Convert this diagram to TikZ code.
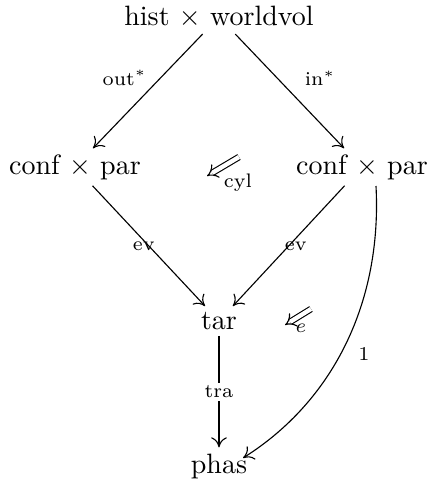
\documentclass[tikz,border=0pt]{standalone}
\usetikzlibrary{arrows.meta}
\begin{document}
\begin{tikzpicture}[x=0.3571pt,y=-0.3571pt,
  obj/.style={inner sep=2pt},
  lab/.style={font=\scriptsize,inner sep=1pt},
  arr/.style={-{Computer Modern Rightarrow[length=3.6pt,width=5.6pt]},line width=0.4pt},
  twocell/.style={double equal sign distance,-{Implies},line width=0.4pt}]
\useasboundingbox (0,0) rectangle (436,487);
\node[obj] (hw) at (219,17) {hist $\times$ worldvol};
\node[obj] (cl) at (75,167) {conf $\times$ par};
\node[obj] (cr) at (362,167) {conf $\times$ par};
\node[obj] (tar) at (219,321) {tar};
\node[obj] (ph) at (219,466) {phas};
\draw[arr] (hw) -- node[lab,pos=0.48,above left=1pt,xshift=1pt,yshift=-1pt] {out$^{*}$} (cl);
\draw[arr] (hw) -- node[lab,pos=0.48,above right=1pt,xshift=4pt,yshift=-1pt] {in$^{*}$} (cr);
\draw[arr] (cl) -- node[lab,pos=0.5,xshift=-1.8pt] {ev} (tar);
\draw[arr] (cr) -- node[lab,pos=0.5,xshift=2.5pt] {ev} (tar);
\draw[arr] (tar) -- node[lab,pos=0.5,fill=white] {tra} (ph);
\coordinate (cs) at (376,186);
\coordinate (ce) at (243,458);
\draw[arr] (cs) .. controls (382,300) and (335,400) .. (ce);
\node[lab] (one) at (364,354) {1};
\coordinate (c1) at (239,157);
\coordinate (c2) at (207,176);
\draw[twocell] (c1) -- (c2);
\node[lab] (cyl) at (238,183) {cyl};
\coordinate (e1) at (311,309);
\coordinate (e2) at (285,325);
\draw[twocell] (e1) -- (e2);
\node[lab] (elab) at (301,328) {$e$};
\end{tikzpicture}
\end{document}
